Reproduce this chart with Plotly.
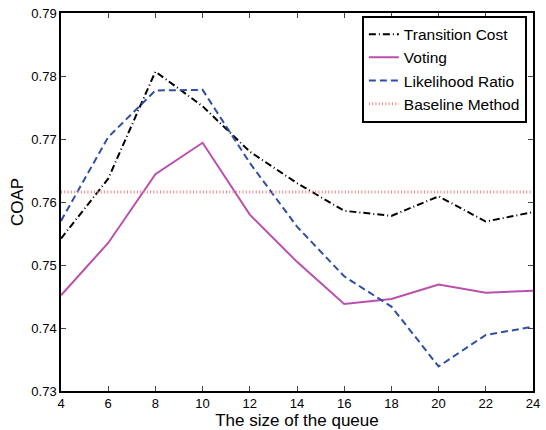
import plotly.graph_objects as go

queue_size = [4, 6, 8, 10, 12, 14, 16, 18, 20, 22, 24]
transition_cost = [0.7542, 0.7637, 0.7807, 0.7752, 0.7680, 0.7630, 0.7586, 0.7578, 0.7609, 0.7569, 0.7584]
voting = [0.7452, 0.7535, 0.7644, 0.7694, 0.7580, 0.7505, 0.7438, 0.7446, 0.7469, 0.7456, 0.7459]
likelihood_ratio = [0.7570, 0.7703, 0.7777, 0.7778, 0.7662, 0.7561, 0.7482, 0.7434, 0.7339, 0.7389, 0.7402]
baseline = [0.7616] * len(queue_size)

y_ticks = [0.73, 0.74, 0.75, 0.76, 0.77, 0.78, 0.79]
x_ticks = queue_size

FONT = "Liberation Sans, Arial, Helvetica, sans-serif"

fig = go.Figure()
fig.add_trace(go.Scatter(x=queue_size, y=transition_cost, mode="lines", name="Transition Cost",
                         line=dict(color="black", width=2, dash="7px,3px,1px,3px")))
fig.add_trace(go.Scatter(x=queue_size, y=voting, mode="lines", name="Voting",
                         line=dict(color="#bb4fae", width=2)))
fig.add_trace(go.Scatter(x=queue_size, y=likelihood_ratio, mode="lines", name="Likelihood Ratio",
                         line=dict(color="#2f4fa6", width=2, dash="7px,4px")))
fig.add_trace(go.Scatter(x=queue_size, y=baseline, mode="lines", name="Baseline Method",
                         line=dict(color="#f4868c", width=3, dash="1px,2.3px")))

fig.update_layout(
    width=546, height=430,
    margin=dict(l=61, r=6, t=13, b=39),
    plot_bgcolor="white", paper_bgcolor="white",
    font=dict(family=FONT, size=13, color="black"),
    showlegend=True,
    legend=dict(x=0.987, y=0.993, xanchor="right", yanchor="top",
                bgcolor="white", bordercolor="black", borderwidth=2,
                font=dict(size=15.5, family=FONT), tracegroupgap=0,
                itemwidth=30),
    xaxis=dict(range=[4, 24], tickvals=x_ticks, ticks="inside", ticklen=5,
               showline=True, linecolor="black", linewidth=1.5, mirror="allticks",
               showgrid=False, zeroline=False,
               title=dict(text="The size of the queue", font=dict(size=17), standoff=0),
               tickfont=dict(size=13)),
    yaxis=dict(range=[0.73, 0.79], tickvals=y_ticks, tickformat=".2f", ticks="inside", ticklen=5,
               showline=True, linecolor="black", linewidth=1.5, mirror="allticks",
               showgrid=False, zeroline=False,
               title=dict(text="COAP", font=dict(size=17), standoff=3),
               tickfont=dict(size=13)),
)

fig.write_html("out.html")
